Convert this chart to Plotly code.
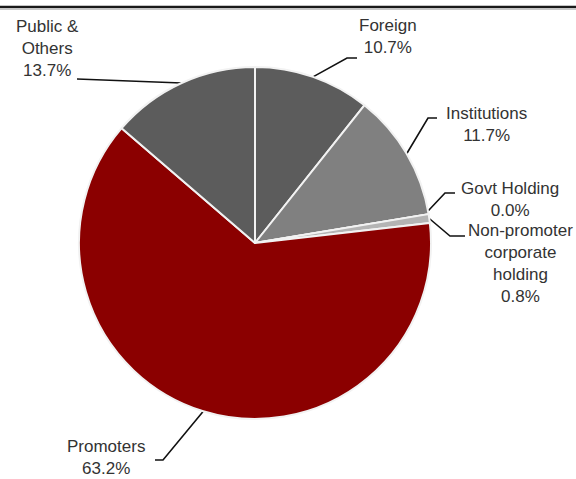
import math
import plotly.graph_objects as go

# ---- data ----
labels = ["Foreign", "Institutions", "Govt Holding", "Non-promoter corporate holding", "Promoters", "Public & Others"]
display_labels = ["Foreign", "Institutions", "Govt Holding", "Non-promoter<br>corporate<br>holding", "Promoters", "Public &<br>Others"]
values = [10.7, 11.7, 0.0, 0.8, 63.2, 13.7]

# ---- styles / layout ----
colors = ["#5c5c5c", "#808080", "#a6a6a6", "#b4b4b4", "#8b0000", "#5c5c5c"]
W, H = 576, 479
cx, cy, R = 255, 243, 176

# label block centers and leader elbows (pixel coordinates of the layout)
label_pos = [(388, 36), (486, 124), (510, 199), (520, 263), (106, 457), (47, 48)]
elbows = [
    [(347, 58), (357, 58)],
    [(428, 118), (437, 118)],
    [(445, 193), (455, 193)],
    [(450, 236), (465, 236)],
    [(163, 460), (155, 460)],
    [(77, 79)],
]

fig = go.Figure()
fig.add_trace(go.Pie(
    labels=labels, values=values, sort=False, direction="clockwise", rotation=0,
    marker=dict(colors=colors, line=dict(color="#f2f2f2", width=2)),
    textinfo="none", hoverinfo="label+percent", showlegend=False,
    domain=dict(x=[(cx - R) / W, (cx + R) / W], y=[(H - cy - R) / H, (H - cy + R) / H]),
))

total = sum(values)
cum = 0.0
annotations = []
for i, v in enumerate(values):
    if v > 0:
        mid = cum + v / 2
    else:
        mid = cum
    ang = 2 * math.pi * mid / total
    ex, ey = cx + R * math.sin(ang), cy - R * math.cos(ang)
    if i == 2:
        ex, ey = cx + (R - 2) * math.sin(ang), cy - (R - 2) * math.cos(ang) - 2
    cum += v
    xs = [ex] + [p[0] for p in elbows[i]]
    ys = [ey] + [p[1] for p in elbows[i]]
    fig.add_trace(go.Scatter(x=xs, y=ys, mode="lines", line=dict(color="#111111", width=1.6),
                             hoverinfo="skip", showlegend=False))
    annotations.append(dict(
        x=label_pos[i][0], y=label_pos[i][1], xref="x", yref="y",
        text=f"{display_labels[i]}<br>{v:.1f}%", showarrow=False,
        xanchor="center", yanchor="middle", align="center",
        font=dict(family="Liberation Sans, Arial, sans-serif", size=17, color="#333333"),
    ))

fig.update_layout(
    width=W, height=H, margin=dict(l=0, r=0, t=0, b=0),
    paper_bgcolor="white", plot_bgcolor="rgba(0,0,0,0)",
    xaxis=dict(range=[0, W], visible=False, fixedrange=True),
    yaxis=dict(range=[H, 0], visible=False, fixedrange=True),
    annotations=annotations,
    shapes=[
        dict(type="line", xref="paper", yref="y", x0=0, x1=1, y0=7, y1=7,
             line=dict(color="#1a1a1a", width=2.5)),
        dict(type="line", xref="paper", yref="y", x0=0, x1=1, y0=9.5, y1=9.5,
             line=dict(color="#c8c8c8", width=1)),
    ],
)

fig.write_html("out.html")
